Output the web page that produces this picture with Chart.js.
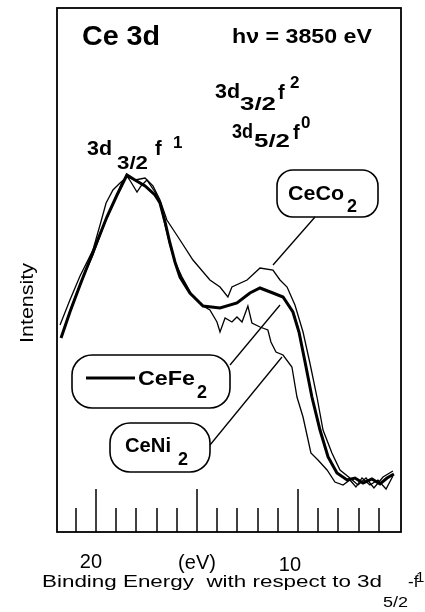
<!DOCTYPE html>
<html><head><meta charset="utf-8">
<script src="https://cdn.jsdelivr.net/npm/chart.js@4.4.1/dist/chart.umd.min.js"></script>
<style>html,body{margin:0;padding:0;background:#fff;}canvas{display:block;}</style>
</head><body>
<canvas id="c" width="425" height="612"></canvas>
<script>
// Binding energy (eV) and intensity (arb. units)
const energyFe = [21.73,21.29,20.79,20.15,19.46,18.96,18.47,18.07,17.57,17.08,16.83,16.58,16.34,16.09,15.84,15.35,14.70,13.86,13.02,12.38,11.88,11.24,10.74,10.25,9.95,9.65,9.31,8.91,8.51,8.07,7.57,7.18,6.78,6.34,5.94,5.59,5.25];
const intensityFe = [194,220,247,280,315,337,357,352,346,337,329,310,289,270,255,239,226,224,229,239,244,239,235,220,200,170,135,102,75,59,52,54,49,53,48,54,58];

const energyCo = [21.78,21.29,20.79,20.15,19.80,19.50,19.16,18.81,18.47,18.07,17.57,17.18,16.83,16.49,15.84,15.20,14.36,13.86,13.47,13.27,12.52,11.88,11.24,10.89,10.54,10.15,9.75,9.41,9.06,8.76,8.32,7.92,7.43,7.03,6.63,6.24,5.79,5.30];
const intensityCo = [207,232,256,282,307,329,342,349,355,352,354,346,332,312,292,272,252,245,235,245,252,264,262,252,245,227,200,169,135,102,79,62,54,47,54,44,55,61];

const energyNi = [21.68,21.19,20.69,20.15,19.55,19.06,18.71,18.47,18.27,17.97,17.77,17.48,17.08,16.83,16.58,16.34,16.09,15.74,15.25,14.70,14.36,14.01,13.86,13.61,13.27,13.02,12.77,12.48,12.28,11.88,11.49,11.34,11.09,10.74,10.30,10.05,9.75,9.50,9.36,9.01,8.56,8.17,7.77,7.43,7.13,6.83,6.44,6.04,5.64,5.30];
const intensityNi = [197,227,252,277,310,332,350,356,350,340,346,352,340,329,307,287,270,255,237,226,222,210,200,214,210,215,210,226,209,205,202,190,180,177,165,135,115,92,79,72,62,50,47,52,45,54,47,52,43,56];

const minorTickValues = [6,7,8,9,11,12,13,14,16,17,18,19,21];
const majorTickValues = [10,15,20];
const tickLabelValues = [20,15,10];
const tickLabelTexts = ['20','(eV)','10'];

const FONT = '"Liberation Sans", Arial, Helvetica, sans-serif';

function pts(xs, ys){ return xs.map((x,i)=>({x:x, y:ys[i]})); }

function txt(ctx, s, x, y, size, bold, width, align){
  ctx.save();
  ctx.font = (bold?'bold ':'') + size + 'px ' + FONT;
  const w = ctx.measureText(s).width;
  const sx = width ? width / w : 1;
  const rw = w * sx;
  let x0 = x;
  if (align === 'center') x0 = x - rw/2;
  ctx.translate(x0, y);
  ctx.scale(sx, 1);
  ctx.textAlign = 'left';
  ctx.textBaseline = 'alphabetic';
  ctx.fillStyle = '#000';
  ctx.fillText(s, 0, 0);
  ctx.restore();
}

function rrect(ctx, x, y, w, h, r){
  ctx.beginPath();
  ctx.moveTo(x+r, y);
  ctx.lineTo(x+w-r, y);
  ctx.arcTo(x+w, y, x+w, y+r, r);
  ctx.lineTo(x+w, y+h-r);
  ctx.arcTo(x+w, y+h, x+w-r, y+h, r);
  ctx.lineTo(x+r, y+h);
  ctx.arcTo(x, y+h, x, y+h-r, r);
  ctx.lineTo(x, y+r);
  ctx.arcTo(x, y, x+r, y, r);
  ctx.closePath();
  ctx.stroke();
}

function line(ctx, x1, y1, x2, y2, lw){
  ctx.beginPath(); ctx.lineWidth = lw; ctx.moveTo(x1,y1); ctx.lineTo(x2,y2); ctx.stroke();
}

const decor = {
  id: 'decor',
  afterDraw(chart){
    const ctx = chart.ctx, a = chart.chartArea, xs = chart.scales.x;
    ctx.save();
    ctx.strokeStyle = '#000';
    ctx.lineWidth = 1.8;
    ctx.strokeRect(a.left, a.top, a.right - a.left, a.bottom - a.top);
    // inward ticks
    ctx.lineWidth = 1.5;
    minorTickValues.forEach(v => { const px = Math.round(xs.getPixelForValue(v)); line(ctx, px, a.bottom, px, a.bottom - 24, 1.5); });
    majorTickValues.forEach(v => { const px = Math.round(xs.getPixelForValue(v)); line(ctx, px, a.bottom, px, a.bottom - 43, 1.5); });
    // tick labels
    const offs = [-5, 0, -8], base = [568, 569, 571];
    tickLabelValues.forEach((v,i) => {
      txt(ctx, tickLabelTexts[i], xs.getPixelForValue(v) + offs[i], base[i], 20, false, null, 'center');
    });
    // x title
    txt(ctx, 'Binding Energy  with respect to 3d', 42, 587, 17, false, 340);
    txt(ctx, '5/2', 383, 607, 15, false, 25);
    txt(ctx, '-f', 408, 587, 17, false);
    txt(ctx, '1', 416, 582, 15, false);
    // y title
    ctx.save();
    ctx.translate(33, 303);
    ctx.rotate(-Math.PI/2);
    txt(ctx, 'Intensity', 0, 0, 19, false, 80, 'center');
    ctx.restore();
    // header texts
    txt(ctx, 'Ce 3d', 82, 45, 28, true, 78);
    txt(ctx, 'h\u03bd = 3850 eV', 232, 43, 21, true, 140);
    // 3d3/2 f2
    txt(ctx, '3d', 215, 98, 20, true, 25);
    txt(ctx, '3/2', 240, 110, 19, true, 36);
    txt(ctx, 'f', 278, 99, 20, true);
    txt(ctx, '2', 290, 88, 17, true);
    // 3d5/2 f0
    txt(ctx, '3d', 232, 138, 20, true, 21);
    txt(ctx, '5/2', 254, 147, 19, true, 36);
    txt(ctx, 'f', 293, 139, 20, true);
    txt(ctx, '0', 301, 128, 17, true);
    // 3d3/2 f1
    txt(ctx, '3d', 87, 155, 20, true, 25);
    txt(ctx, '3/2', 117, 169, 19, true, 31);
    txt(ctx, 'f', 155, 155, 20, true);
    txt(ctx, '1', 173, 148, 17, true);
    // label boxes
    ctx.lineWidth = 1.6;
    rrect(ctx, 277, 170, 101, 47, 16);
    txt(ctx, 'CeCo', 288, 200, 20, true, 56);
    txt(ctx, '2', 347, 212, 18, true);
    line(ctx, 315, 217, 273, 265, 1.3);

    ctx.lineWidth = 1.6;
    rrect(ctx, 72, 355, 158, 53, 20);
    line(ctx, 86, 378, 135, 378, 3);
    txt(ctx, 'CeFe', 138, 385, 20, true, 57);
    txt(ctx, '2', 197, 398, 18, true);
    line(ctx, 230, 365, 280, 305, 1.3);

    ctx.lineWidth = 1.6;
    rrect(ctx, 110, 423, 100, 49, 20);
    txt(ctx, 'CeNi', 125, 452, 20, true, 46);
    txt(ctx, '2', 178, 465, 18, true);
    line(ctx, 210, 445, 282, 357, 1.3);
    ctx.restore();
  }
};

new Chart(document.getElementById('c'), {
  type: 'scatter',
  data: {
    datasets: [
      { label: 'CeCo2', data: pts(energyCo, intensityCo), showLine: true, borderColor: '#000', borderWidth: 1.3, pointRadius: 0, tension: 0, order: 3 },
      { label: 'CeNi2', data: pts(energyNi, intensityNi), showLine: true, borderColor: '#000', borderWidth: 1.3, pointRadius: 0, tension: 0, order: 2 },
      { label: 'CeFe2', data: pts(energyFe, intensityFe), showLine: true, borderColor: '#000', borderWidth: 3, pointRadius: 0, tension: 0, order: 1 }
    ]
  },
  options: {
    responsive: false,
    animation: false,
    devicePixelRatio: 1,
    layout: { padding: { left: 57, right: 24, top: 8, bottom: 80 } },
    plugins: { legend: { display: false }, tooltip: { enabled: false } },
    scales: {
      x: { type: 'linear', min: 4.9, max: 21.93, reverse: true, display: false },
      y: { type: 'linear', min: 0, max: 524, display: false }
    }
  },
  plugins: [decor]
});
</script>
</body></html>
